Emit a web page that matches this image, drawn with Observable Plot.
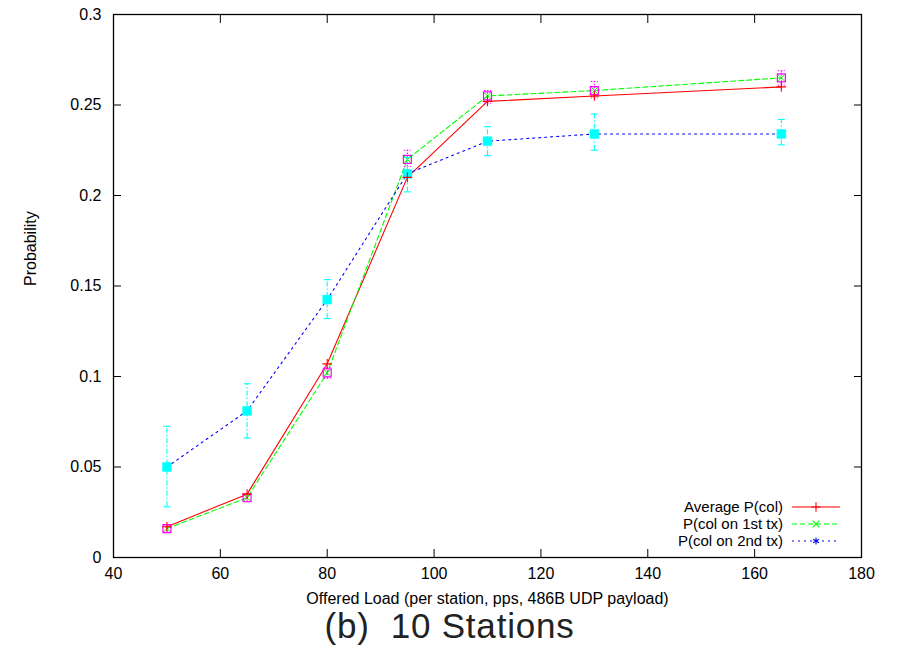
<!DOCTYPE html>
<html>
<head>
<meta charset="utf-8">
<script src="https://cdn.jsdelivr.net/npm/d3@7"></script>
<script src="https://cdn.jsdelivr.net/npm/@observablehq/plot@0.6"></script>
<style>
  body { margin: 0; background: #fff; }
  #wrap { position: relative; width: 899px; height: 649px; overflow: hidden; }
  #chart svg { display: block; }
  #title { position: absolute; left: 0; top: 609px; width: 899px; text-align: center; line-height: 34px;
           font-family: "Liberation Sans", Arial, sans-serif; font-size: 35px; letter-spacing: 0.8px;
           color: #222; white-space: pre; }
  #legend { position: absolute; left: 0; top: 0; pointer-events: none; }
</style>
</head>
<body>
<div id="wrap">
  <div id="chart"></div>
  <div id="title">(b)  10 Stations</div>
</div>
<script>
// ---- data ----
const loads = [50, 65, 80, 95, 110, 130, 165];
const avgCol = [0.017, 0.035, 0.107, 0.210, 0.252, 0.255, 0.260];
const col1st = [0.016, 0.033, 0.102, 0.220, 0.255, 0.258, 0.265];
const col1stLo = [0.014, 0.031, 0.099, 0.216, 0.251, 0.254, 0.261];
const col1stHi = [0.018, 0.035, 0.105, 0.225, 0.258, 0.263, 0.269];
const col2nd = [0.050, 0.081, 0.1425, 0.212, 0.230, 0.234, 0.234];
const col2ndLo = [0.028, 0.066, 0.132, 0.202, 0.222, 0.225, 0.228];
const col2ndHi = [0.0725, 0.096, 0.1535, 0.221, 0.238, 0.245, 0.242];
const seriesNames = ["Average P(col)", "P(col on 1st tx)", "P(col on 2nd tx)"];
const xTicks = [40, 60, 80, 100, 120, 140, 160, 180];
const yTicks = [0, 0.05, 0.1, 0.15, 0.2, 0.25, 0.3];
const yTickLabels = ["0", "0.05", "0.1", "0.15", "0.2", "0.25", "0.3"];
const xLabel = "Offered Load (per station, pps, 486B UDP payload)";
const yLabel = "Probability";

const rows = loads.map((x, i) => ({
  x, avg: avgCol[i], c1: col1st[i], c1lo: col1stLo[i], c1hi: col1stHi[i],
  c2: col2nd[i], c2lo: col2ndLo[i], c2hi: col2ndHi[i]
}));

const RED = "#ff0000", GREEN = "#00ff00", BLUE = "#0000ff", MAG = "#ff00ff", CYAN = "#00ffff";
const cap = (w) => ({ draw(ctx) { ctx.moveTo(-w, 0); ctx.lineTo(w, 0); } });
const font = "Liberation Sans, Arial, Helvetica, sans-serif";

const plot = Plot.plot({
  width: 899,
  height: 608,
  marginLeft: 113,
  marginRight: 38,
  marginTop: 14,
  marginBottom: 51,
  style: { fontFamily: font, fontSize: "16px", color: "#000", background: "#fff" },
  x: { domain: [40, 180] },
  y: { domain: [0, 0.3] },
  marks: [
    // axes (gnuplot style: inward, mirrored ticks)
    Plot.axisX({ ticks: xTicks, tickSize: -8, tickPadding: 18, label: null, tickFormat: d => String(d) }),
    Plot.axisX({ anchor: "top", ticks: xTicks, tickSize: -8, label: null, tickFormat: () => "" }),
    Plot.axisY({ ticks: yTicks, tickSize: -8, tickPadding: 20, label: null,
                 tickFormat: d => yTickLabels[yTicks.indexOf(d)] }),
    Plot.axisY({ anchor: "right", ticks: yTicks, tickSize: -8, label: null, tickFormat: () => "" }),
    Plot.text([xLabel], { frameAnchor: "bottom", dy: 41, text: d => d, fontSize: 16, lineAnchor: "middle" }),
    Plot.text([yLabel], { frameAnchor: "left", dx: -83, rotate: -90, text: d => d, fontSize: 16 }),

    // lines
    Plot.line(rows, { x: "x", y: "avg", stroke: RED, strokeWidth: 1.1 }),
    Plot.line(rows, { x: "x", y: "c1", stroke: GREEN, strokeWidth: 1.1, strokeDasharray: "5,3" }),
    Plot.line(rows, { x: "x", y: "c2", stroke: BLUE, strokeWidth: 1.1, strokeDasharray: "2,4" }),

    // series markers
    Plot.dot(rows, { x: "x", y: "c2", symbol: "asterisk", stroke: BLUE, r: 3.2, strokeWidth: 1 }),
    Plot.dot(rows, { x: "x", y: "c1", symbol: "times", stroke: GREEN, r: 3.2, strokeWidth: 1 }),

    // error bars, 1st tx (magenta)
    Plot.ruleX(rows, { x: "x", y1: "c1lo", y2: "c1hi", stroke: MAG, strokeWidth: 1, strokeDasharray: "1.5,1.5" }),
    Plot.dot(rows, { x: "x", y: "c1lo", symbol: cap(3.5), stroke: MAG, strokeWidth: 1, strokeDasharray: "1.5,1.5" }),
    Plot.dot(rows, { x: "x", y: "c1hi", symbol: cap(3.5), stroke: MAG, strokeWidth: 1, strokeDasharray: "1.5,1.5" }),
    Plot.dot(rows, { x: "x", y: "c1", symbol: "square", stroke: MAG, fill: "none", r: 4.5, strokeWidth: 1.2 }),

    // error bars, 2nd tx (cyan)
    Plot.ruleX(rows, { x: "x", y1: "c2lo", y2: "c2hi", stroke: CYAN, strokeWidth: 1.1, strokeDasharray: "5,2,1.5,2" }),
    Plot.dot(rows, { x: "x", y: "c2lo", symbol: cap(3.5), stroke: CYAN, strokeWidth: 1.1 }),
    Plot.dot(rows, { x: "x", y: "c2hi", symbol: cap(3.5), stroke: CYAN, strokeWidth: 1.1 }),
    Plot.dot(rows, { x: "x", y: "c2", symbol: "square", fill: CYAN, stroke: CYAN, r: 5, strokeWidth: 0.5 }),

    Plot.dot(rows, { x: "x", y: "avg", symbol: "plus", stroke: RED, r: 3.2, strokeWidth: 1.1 }),

    Plot.frame({ stroke: "#000", strokeWidth: 1.3 })
  ]
});
document.getElementById("chart").appendChild(plot);

// legend (bottom right, inside the frame)
const legendStyles = [
  { stroke: RED, dash: null, symbol: d3.symbolPlus },
  { stroke: GREEN, dash: "5,3", symbol: d3.symbolTimes },
  { stroke: BLUE, dash: "2,4", symbol: d3.symbolAsterisk }
];
const lg = d3.select("#wrap").append("svg").attr("id", "legend").attr("width", 899).attr("height", 600);
const rowY = [507, 524, 541];
seriesNames.forEach((name, i) => {
  const s = legendStyles[i];
  const g = lg.append("g");
  g.append("text").attr("x", 783).attr("y", rowY[i]).attr("dy", "0.35em")
    .attr("text-anchor", "end").attr("font-family", font).attr("font-size", 15).text(name);
  g.append("line").attr("x1", 792).attr("x2", 840).attr("y1", rowY[i]).attr("y2", rowY[i])
    .attr("stroke", s.stroke).attr("stroke-width", 1.1).attr("stroke-dasharray", s.dash);
  g.append("path").attr("transform", `translate(816,${rowY[i]})`)
    .attr("d", d3.symbol(s.symbol, 32)()).attr("fill", "none").attr("stroke", s.stroke).attr("stroke-width", 1.1);
});
</script>
</body>
</html>
